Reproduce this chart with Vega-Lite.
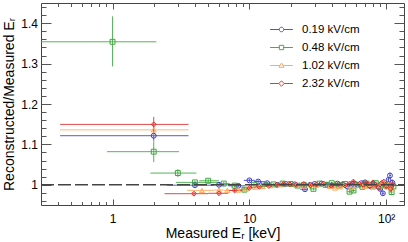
{
"$schema": "https://vega.github.io/schema/vega-lite/v6.json",
"width": 363, "height": 202,
"autosize": {"type": "none"},
"padding": {"left": 41, "top": 3, "right": 4, "bottom": 37},
"background": "white",
"config": {
  "view": {"stroke": "#444", "strokeWidth": 1},
  "axis": {"labelFont": "Liberation Sans", "titleFont": "Liberation Sans", "labelColor": "#000", "titleColor": "#000", "tickColor": "#555", "tickWidth": 1, "grid": false, "domain": false, "titleFontWeight": "normal", "labelFontSize": 12, "titleFontSize": 14},
  "legend": {"labelFont": "Liberation Sans", "labelFontSize": 11.5, "labelColor": "#000", "symbolSize": 144, "symbolStrokeWidth": 1, "rowPadding": 6, "labelOffset": 14, "padding": 0}
},
"datasets": {
"d": [
{"s":"0.19 kV/cm","E":2,"lo":0.414,"hi":3.59,"r":1.1215,"rl":1.109,"rh":1.134},
{"s":"0.19 kV/cm","E":4,"lo":2.5,"hi":5.5,"r":0.999,"rl":0.995,"rh":1.003},
{"s":"0.19 kV/cm","E":6,"lo":5.2,"hi":7.0,"r":1.0,"rl":0.996,"rh":1.004},
{"s":"0.19 kV/cm","E":8.3,"lo":7.0,"hi":9.3,"r":0.9975,"rl":0.994,"rh":1.001},
{"s":"0.19 kV/cm","E":10,"lo":9.1,"hi":11,"r":1.011,"rl":1.007,"rh":1.015},
{"s":"0.19 kV/cm","E":11.6,"lo":10.8,"hi":12.5,"r":1.008,"rl":1.004,"rh":1.012},
{"s":"0.19 kV/cm","E":13.5,"lo":12.5,"hi":14.7,"r":1.004,"rl":1.001,"rh":1.007},
{"s":"0.19 kV/cm","E":16,"lo":14.7,"hi":17.2,"r":1.0,"rl":0.997,"rh":1.003},
{"s":"0.19 kV/cm","E":18.5,"lo":17.2,"hi":20,"r":1.002,"rl":0.999,"rh":1.005},
{"s":"0.19 kV/cm","E":21.5,"lo":20,"hi":23.5,"r":1.001,"rl":0.998,"rh":1.004},
{"s":"0.19 kV/cm","E":25.5,"lo":23.5,"hi":26.7,"r":0.989,"rl":0.985,"rh":0.993},
{"s":"0.19 kV/cm","E":27.8,"lo":26.7,"hi":29,"r":1.0,"rl":0.997,"rh":1.003},
{"s":"0.19 kV/cm","E":30,"lo":29,"hi":32,"r":1.002,"rl":0.999,"rh":1.005},
{"s":"0.19 kV/cm","E":33.8,"lo":32,"hi":35.5,"r":1.003,"rl":1.0,"rh":1.006},
{"s":"0.19 kV/cm","E":37,"lo":35.5,"hi":38.5,"r":1.0,"rl":0.997,"rh":1.003},
{"s":"0.19 kV/cm","E":40,"lo":38.5,"hi":42,"r":0.998,"rl":0.995,"rh":1.001},
{"s":"0.19 kV/cm","E":44,"lo":42,"hi":46,"r":1.003,"rl":1.0,"rh":1.006},
{"s":"0.19 kV/cm","E":48,"lo":46,"hi":50,"r":1.001,"rl":0.998,"rh":1.004},
{"s":"0.19 kV/cm","E":52,"lo":50,"hi":54.5,"r":0.996,"rl":0.993,"rh":0.999},
{"s":"0.19 kV/cm","E":57,"lo":54.5,"hi":59.5,"r":1.002,"rl":0.999,"rh":1.005},
{"s":"0.19 kV/cm","E":62,"lo":59.5,"hi":64,"r":1.0,"rl":0.997,"rh":1.003},
{"s":"0.19 kV/cm","E":66,"lo":64,"hi":68,"r":1.004,"rl":1.0,"rh":1.008},
{"s":"0.19 kV/cm","E":70,"lo":68,"hi":72.5,"r":1.006,"rl":1.002,"rh":1.01},
{"s":"0.19 kV/cm","E":75,"lo":72.5,"hi":77.5,"r":0.998,"rl":0.994,"rh":1.002},
{"s":"0.19 kV/cm","E":80,"lo":77.5,"hi":82.5,"r":1.002,"rl":0.998,"rh":1.006},
{"s":"0.19 kV/cm","E":85,"lo":82.5,"hi":87.5,"r":0.997,"rl":0.993,"rh":1.001},
{"s":"0.19 kV/cm","E":90.4,"lo":88,"hi":92.5,"r":0.99,"rl":0.985,"rh":0.995},
{"s":"0.19 kV/cm","E":94.6,"lo":92.5,"hi":97.3,"r":0.979,"rl":0.973,"rh":0.985},
{"s":"0.19 kV/cm","E":100,"lo":97.3,"hi":102,"r":0.996,"rl":0.99,"rh":1.002},
{"s":"0.19 kV/cm","E":104,"lo":102,"hi":105.3,"r":1.012,"rl":1.005,"rh":1.019},
{"s":"0.19 kV/cm","E":106.6,"lo":105.3,"hi":108.8,"r":1.023,"rl":1.016,"rh":1.03},
{"s":"0.19 kV/cm","E":111,"lo":108.8,"hi":113,"r":1.005,"rl":0.997,"rh":1.013},
{"s":"0.48 kV/cm","E":1,"lo":0.3,"hi":2.09,"r":1.354,"rl":1.293,"rh":1.417},
{"s":"0.48 kV/cm","E":2,"lo":0.91,"hi":3.06,"r":1.082,"rl":1.056,"rh":1.108},
{"s":"0.48 kV/cm","E":3,"lo":1.89,"hi":4.1,"r":1.029,"rl":1.019,"rh":1.039},
{"s":"0.48 kV/cm","E":4,"lo":2.9,"hi":5.9,"r":1.006,"rl":1.002,"rh":1.01},
{"s":"0.48 kV/cm","E":5,"lo":4.3,"hi":6.0,"r":1.01,"rl":1.006,"rh":1.014},
{"s":"0.48 kV/cm","E":6.5,"lo":6.0,"hi":7.2,"r":1.003,"rl":0.999,"rh":1.007},
{"s":"0.48 kV/cm","E":7.8,"lo":7.2,"hi":8.5,"r":0.998,"rl":0.994,"rh":1.002},
{"s":"0.48 kV/cm","E":9.2,"lo":8.5,"hi":10,"r":0.988,"rl":0.984,"rh":0.992},
{"s":"0.48 kV/cm","E":10.8,"lo":10,"hi":11.8,"r":1.0,"rl":0.996,"rh":1.004},
{"s":"0.48 kV/cm","E":12.8,"lo":11.8,"hi":14,"r":1.002,"rl":0.999,"rh":1.005},
{"s":"0.48 kV/cm","E":15,"lo":14,"hi":16.2,"r":1.001,"rl":0.998,"rh":1.004},
{"s":"0.48 kV/cm","E":17.5,"lo":16.2,"hi":18.8,"r":1.003,"rl":1.0,"rh":1.006},
{"s":"0.48 kV/cm","E":20,"lo":18.8,"hi":21.2,"r":1.002,"rl":0.999,"rh":1.005},
{"s":"0.48 kV/cm","E":22.5,"lo":21.2,"hi":23.8,"r":0.998,"rl":0.995,"rh":1.001},
{"s":"0.48 kV/cm","E":25,"lo":23.8,"hi":27,"r":1.0,"rl":0.997,"rh":1.003},
{"s":"0.48 kV/cm","E":29.4,"lo":27.5,"hi":31,"r":0.99,"rl":0.986,"rh":0.994},
{"s":"0.48 kV/cm","E":32.5,"lo":31,"hi":34.3,"r":1.003,"rl":1.0,"rh":1.006},
{"s":"0.48 kV/cm","E":36,"lo":34.3,"hi":38,"r":1.0,"rl":0.997,"rh":1.003},
{"s":"0.48 kV/cm","E":40,"lo":38,"hi":42.5,"r":1.004,"rl":1.001,"rh":1.007},
{"s":"0.48 kV/cm","E":45,"lo":42.5,"hi":47.5,"r":0.998,"rl":0.995,"rh":1.001},
{"s":"0.48 kV/cm","E":50,"lo":47.5,"hi":52,"r":1.002,"rl":0.999,"rh":1.005},
{"s":"0.48 kV/cm","E":54,"lo":52,"hi":55.8,"r":0.983,"rl":0.979,"rh":0.987},
{"s":"0.48 kV/cm","E":57.7,"lo":55.8,"hi":59.8,"r":0.986,"rl":0.982,"rh":0.99},
{"s":"0.48 kV/cm","E":62,"lo":59.8,"hi":64.5,"r":1.0,"rl":0.996,"rh":1.004},
{"s":"0.48 kV/cm","E":67,"lo":64.5,"hi":69.5,"r":0.995,"rl":0.991,"rh":0.999},
{"s":"0.48 kV/cm","E":72,"lo":69.5,"hi":75,"r":1.003,"rl":0.999,"rh":1.007},
{"s":"0.48 kV/cm","E":78,"lo":75,"hi":81,"r":0.998,"rl":0.994,"rh":1.002},
{"s":"0.48 kV/cm","E":84,"lo":81,"hi":87,"r":1.004,"rl":1.0,"rh":1.008},
{"s":"0.48 kV/cm","E":90,"lo":87,"hi":93,"r":0.996,"rl":0.991,"rh":1.001},
{"s":"0.48 kV/cm","E":96,"lo":93,"hi":99,"r":1.0,"rl":0.995,"rh":1.005},
{"s":"0.48 kV/cm","E":102,"lo":99,"hi":105.8,"r":0.998,"rl":0.992,"rh":1.004},
{"s":"0.48 kV/cm","E":109.6,"lo":105.8,"hi":111.5,"r":0.982,"rl":0.974,"rh":0.99},
{"s":"0.48 kV/cm","E":113,"lo":111.5,"hi":114.5,"r":0.996,"rl":0.988,"rh":1.004},
{"s":"1.02 kV/cm","E":2,"lo":0.414,"hi":3.59,"r":1.136,"rl":1.122,"rh":1.15},
{"s":"1.02 kV/cm","E":4.5,"lo":3.5,"hi":5.5,"r":0.986,"rl":0.982,"rh":0.99},
{"s":"1.02 kV/cm","E":6,"lo":5.5,"hi":6.5,"r":0.987,"rl":0.983,"rh":0.991},
{"s":"1.02 kV/cm","E":6.9,"lo":6.5,"hi":7.6,"r":0.986,"rl":0.982,"rh":0.99},
{"s":"1.02 kV/cm","E":8.3,"lo":7.6,"hi":8.9,"r":0.987,"rl":0.983,"rh":0.991},
{"s":"1.02 kV/cm","E":9.5,"lo":8.9,"hi":10.2,"r":0.99,"rl":0.986,"rh":0.994},
{"s":"1.02 kV/cm","E":11,"lo":10.2,"hi":11.8,"r":0.994,"rl":0.99,"rh":0.998},
{"s":"1.02 kV/cm","E":12.5,"lo":11.8,"hi":13.5,"r":0.996,"rl":0.993,"rh":0.999},
{"s":"1.02 kV/cm","E":14.5,"lo":13.5,"hi":15.7,"r":0.998,"rl":0.995,"rh":1.001},
{"s":"1.02 kV/cm","E":17,"lo":15.7,"hi":18.2,"r":1.0,"rl":0.997,"rh":1.003},
{"s":"1.02 kV/cm","E":19.5,"lo":18.2,"hi":20.7,"r":1.002,"rl":0.999,"rh":1.005},
{"s":"1.02 kV/cm","E":22,"lo":20.7,"hi":23.5,"r":1.0,"rl":0.997,"rh":1.003},
{"s":"1.02 kV/cm","E":25,"lo":23.5,"hi":26.5,"r":0.997,"rl":0.994,"rh":1.0},
{"s":"1.02 kV/cm","E":28,"lo":26.5,"hi":29.5,"r":1.001,"rl":0.998,"rh":1.004},
{"s":"1.02 kV/cm","E":31,"lo":29.5,"hi":33,"r":0.999,"rl":0.996,"rh":1.002},
{"s":"1.02 kV/cm","E":35,"lo":33,"hi":37,"r":1.003,"rl":1.0,"rh":1.006},
{"s":"1.02 kV/cm","E":38.8,"lo":37,"hi":40.5,"r":0.996,"rl":0.993,"rh":0.999},
{"s":"1.02 kV/cm","E":42.3,"lo":40.5,"hi":44,"r":0.992,"rl":0.989,"rh":0.995},
{"s":"1.02 kV/cm","E":46,"lo":44,"hi":48,"r":0.995,"rl":0.992,"rh":0.998},
{"s":"1.02 kV/cm","E":50,"lo":48,"hi":52.5,"r":1.0,"rl":0.997,"rh":1.003},
{"s":"1.02 kV/cm","E":55,"lo":52.5,"hi":57.5,"r":0.993,"rl":0.99,"rh":0.996},
{"s":"1.02 kV/cm","E":60,"lo":57.5,"hi":62.5,"r":0.998,"rl":0.995,"rh":1.001},
{"s":"1.02 kV/cm","E":65,"lo":62.5,"hi":67.5,"r":1.004,"rl":1.0,"rh":1.008},
{"s":"1.02 kV/cm","E":70,"lo":67.5,"hi":72.5,"r":0.996,"rl":0.992,"rh":1.0},
{"s":"1.02 kV/cm","E":75,"lo":72.5,"hi":77.5,"r":1.001,"rl":0.997,"rh":1.005},
{"s":"1.02 kV/cm","E":80,"lo":77.5,"hi":82.5,"r":0.994,"rl":0.99,"rh":0.998},
{"s":"1.02 kV/cm","E":85,"lo":82.5,"hi":87.5,"r":1.002,"rl":0.998,"rh":1.006},
{"s":"1.02 kV/cm","E":90,"lo":87.5,"hi":92.5,"r":0.998,"rl":0.993,"rh":1.003},
{"s":"1.02 kV/cm","E":95,"lo":92.5,"hi":97.5,"r":1.006,"rl":1.001,"rh":1.011},
{"s":"1.02 kV/cm","E":100,"lo":97.5,"hi":102.5,"r":0.995,"rl":0.99,"rh":1.0},
{"s":"1.02 kV/cm","E":105,"lo":102.5,"hi":107.5,"r":1.003,"rl":0.997,"rh":1.009},
{"s":"1.02 kV/cm","E":110,"lo":107.5,"hi":112.5,"r":0.992,"rl":0.985,"rh":0.999},
{"s":"2.32 kV/cm","E":2,"lo":0.414,"hi":3.59,"r":1.1495,"rl":1.131,"rh":1.168},
{"s":"2.32 kV/cm","E":3.94,"lo":2.4,"hi":5.0,"r":0.978,"rl":0.974,"rh":0.982},
{"s":"2.32 kV/cm","E":6.0,"lo":5.0,"hi":7.0,"r":0.979,"rl":0.975,"rh":0.983},
{"s":"2.32 kV/cm","E":7.8,"lo":7.0,"hi":8.9,"r":0.986,"rl":0.982,"rh":0.99},
{"s":"2.32 kV/cm","E":10,"lo":8.9,"hi":10.9,"r":0.9925,"rl":0.989,"rh":0.996},
{"s":"2.32 kV/cm","E":11.8,"lo":10.9,"hi":12.8,"r":0.995,"rl":0.992,"rh":0.998},
{"s":"2.32 kV/cm","E":13.9,"lo":12.8,"hi":14.8,"r":0.997,"rl":0.994,"rh":1.0},
{"s":"2.32 kV/cm","E":15.8,"lo":14.8,"hi":16.7,"r":1.0,"rl":0.997,"rh":1.003},
{"s":"2.32 kV/cm","E":17.7,"lo":16.7,"hi":18.7,"r":1.002,"rl":0.999,"rh":1.005},
{"s":"2.32 kV/cm","E":19.8,"lo":18.7,"hi":20.9,"r":1.001,"rl":0.998,"rh":1.004},
{"s":"2.32 kV/cm","E":22,"lo":20.9,"hi":23.5,"r":1.0,"rl":0.997,"rh":1.003},
{"s":"2.32 kV/cm","E":25,"lo":23.5,"hi":26.5,"r":1.002,"rl":0.999,"rh":1.005},
{"s":"2.32 kV/cm","E":28,"lo":26.5,"hi":29.5,"r":0.999,"rl":0.996,"rh":1.002},
{"s":"2.32 kV/cm","E":31,"lo":29.5,"hi":33,"r":1.001,"rl":0.998,"rh":1.004},
{"s":"2.32 kV/cm","E":35,"lo":33,"hi":37.5,"r":1.003,"rl":1.0,"rh":1.006},
{"s":"2.32 kV/cm","E":40,"lo":37.5,"hi":42.5,"r":1.0,"rl":0.997,"rh":1.003},
{"s":"2.32 kV/cm","E":45,"lo":42.5,"hi":47.5,"r":1.002,"rl":0.999,"rh":1.005},
{"s":"2.32 kV/cm","E":50,"lo":47.5,"hi":52,"r":0.998,"rl":0.995,"rh":1.001},
{"s":"2.32 kV/cm","E":54,"lo":52,"hi":55.8,"r":1.003,"rl":1.0,"rh":1.006},
{"s":"2.32 kV/cm","E":57.6,"lo":55.8,"hi":60.7,"r":1.008,"rl":1.004,"rh":1.012},
{"s":"2.32 kV/cm","E":63.8,"lo":60.7,"hi":66,"r":1.0025,"rl":0.999,"rh":1.006},
{"s":"2.32 kV/cm","E":68,"lo":66,"hi":70,"r":1.0,"rl":0.996,"rh":1.004},
{"s":"2.32 kV/cm","E":72,"lo":70,"hi":74,"r":1.004,"rl":1.0,"rh":1.008},
{"s":"2.32 kV/cm","E":76,"lo":74,"hi":78,"r":0.996,"rl":0.992,"rh":1.0},
{"s":"2.32 kV/cm","E":80,"lo":78,"hi":82,"r":1.006,"rl":1.002,"rh":1.01},
{"s":"2.32 kV/cm","E":84,"lo":82,"hi":86,"r":1.0,"rl":0.996,"rh":1.004},
{"s":"2.32 kV/cm","E":88,"lo":86,"hi":90,"r":0.993,"rl":0.988,"rh":0.998},
{"s":"2.32 kV/cm","E":92,"lo":90,"hi":94,"r":1.004,"rl":0.999,"rh":1.009},
{"s":"2.32 kV/cm","E":96,"lo":94,"hi":98,"r":1.008,"rl":1.003,"rh":1.013},
{"s":"2.32 kV/cm","E":100,"lo":98,"hi":102,"r":0.997,"rl":0.991,"rh":1.003},
{"s":"2.32 kV/cm","E":104,"lo":102,"hi":106,"r":1.003,"rl":0.997,"rh":1.009},
{"s":"2.32 kV/cm","E":108,"lo":106,"hi":110,"r":0.99,"rl":0.983,"rh":0.997},
{"s":"2.32 kV/cm","E":112,"lo":110,"hi":114,"r":1.0,"rl":0.992,"rh":1.008}
],
"ref": [{"x0": 0.3, "x1": 135, "y": 1}]
},
"data": {"name": "d"},
"resolve": {"axis": {"x": "independent", "y": "independent"}, "scale": {"shape": "independent", "color": "independent"}},
"layer": [
{
  "mark": {"type": "rule", "strokeWidth": 1, "opacity": 0.85, "clip": true},
  "encoding": {
    "x": {"field": "lo", "type": "quantitative", "scale": {"type": "log", "domain": [0.3, 135], "nice": false},
      "axis": {"orient": "bottom", "values": [1, 10, 100], "labelExpr": "datum.value == 100 ? '10²' : datum.value == 10 ? '10' : '1'", "tickSize": -6, "labelPadding": 14, "title": "Measured Eᵣ [keV]", "titlePadding": 2}},
    "x2": {"field": "hi"},
    "y": {"field": "r", "type": "quantitative", "scale": {"domain": [0.95, 1.45], "nice": false, "zero": false},
      "axis": {"orient": "left", "values": [1, 1.1, 1.2, 1.3, 1.4], "labelExpr": "datum.value == 1 ? '1' : format(datum.value, '.1f')", "tickSize": -10, "labelPadding": 13.5, "title": "Reconstructed/Measured Eᵣ", "titlePadding": 4}},
    "color": {"field": "s", "type": "nominal", "scale": {"domain": ["0.19 kV/cm", "0.48 kV/cm", "1.02 kV/cm", "2.32 kV/cm"], "range": ["#3c3cc8", "#3aa83a", "#ffaa60", "#e02828"]}, "legend": null}
  }
},
{
  "mark": {"type": "rule", "strokeWidth": 1, "opacity": 0.85, "clip": true},
  "encoding": {
    "x": {"field": "E", "type": "quantitative", "scale": {"type": "log", "domain": [0.3, 135], "nice": false},
      "axis": {"orient": "bottom", "values": [0.4, 0.5, 0.6, 0.7, 0.8, 0.9, 2, 3, 4, 5, 6, 7, 8, 9, 20, 30, 40, 50, 60, 70, 80, 90], "tickSize": -3.5, "labels": false, "title": null}},
    "y": {"field": "rl", "type": "quantitative", "scale": {"domain": [0.95, 1.45], "nice": false, "zero": false},
      "axis": {"orient": "left", "values": [0.96, 0.98, 1.02, 1.04, 1.06, 1.08, 1.12, 1.14, 1.16, 1.18, 1.22, 1.24, 1.26, 1.28, 1.32, 1.34, 1.36, 1.38, 1.42, 1.44], "tickSize": -5, "labels": false, "title": null}},
    "y2": {"field": "rh"},
    "color": {"field": "s", "type": "nominal", "scale": {"domain": ["0.19 kV/cm", "0.48 kV/cm", "1.02 kV/cm", "2.32 kV/cm"], "range": ["#3c3cc8", "#3aa83a", "#ffaa60", "#e02828"]}, "legend": null}
  }
},
{
  "mark": {"type": "point", "filled": false, "size": 24, "strokeWidth": 1, "opacity": 1, "clip": true},
  "encoding": {
    "x": {"field": "E", "type": "quantitative", "scale": {"type": "log", "domain": [0.3, 135], "nice": false},
      "axis": {"orient": "top", "values": [1, 10, 100], "tickSize": -6, "labels": false, "title": null}},
    "y": {"field": "r", "type": "quantitative", "scale": {"domain": [0.95, 1.45], "nice": false, "zero": false},
      "axis": {"orient": "right", "values": [1, 1.1, 1.2, 1.3, 1.4], "tickSize": -10, "labels": false, "title": null}},
    "shape": {"field": "s", "type": "nominal", "scale": {"domain": ["0.19 kV/cm", "0.48 kV/cm", "1.02 kV/cm", "2.32 kV/cm"], "range": ["circle", "square", "triangle-up", "diamond"]}, "legend": null},
    "color": {"field": "s", "type": "nominal", "scale": {"domain": ["0.19 kV/cm", "0.48 kV/cm", "1.02 kV/cm", "2.32 kV/cm"], "range": ["#3c3cc8", "#3aa83a", "#ffaa60", "#e02828"]}, "legend": null}
  }
},
{
  "data": {"name": "ref"},
  "mark": {"type": "rule", "strokeDash": [13, 4], "color": "#444", "strokeWidth": 1.5},
  "encoding": {
    "x": {"field": "x0", "type": "quantitative", "scale": {"type": "log", "domain": [0.3, 135], "nice": false},
      "axis": {"orient": "top", "values": [0.4, 0.5, 0.6, 0.7, 0.8, 0.9, 2, 3, 4, 5, 6, 7, 8, 9, 20, 30, 40, 50, 60, 70, 80, 90], "tickSize": -3.5, "labels": false, "title": null}},
    "x2": {"field": "x1"},
    "y": {"field": "y", "type": "quantitative", "scale": {"domain": [0.95, 1.45], "nice": false, "zero": false},
      "axis": {"orient": "right", "values": [0.96, 0.98, 1.02, 1.04, 1.06, 1.08, 1.12, 1.14, 1.16, 1.18, 1.22, 1.24, 1.26, 1.28, 1.32, 1.34, 1.36, 1.38, 1.42, 1.44], "tickSize": -5, "labels": false, "title": null}}
  }
},
{
  "transform": [{"filter": "datum.E < 0"}],
  "mark": {"type": "point", "filled": false, "strokeWidth": 1, "opacity": 1},
  "encoding": {
    "x": {"field": "E", "type": "quantitative", "scale": {"type": "log", "domain": [0.3, 135], "nice": false}, "axis": null},
    "y": {"field": "r", "type": "quantitative", "scale": {"domain": [0.95, 1.45], "nice": false, "zero": false}, "axis": null},
    "shape": {"field": "s", "type": "nominal", "scale": {"domain": ["0.19 kV/cm", "0.48 kV/cm", "1.02 kV/cm", "2.32 kV/cm"], "range": [
      "M-1.9,0H-0.38M0.38,0H1.9M0.38,0A0.38,0.38,0,1,1,-0.38,0A0.38,0.38,0,1,1,0.38,0",
      "M-1.9,0H-0.36M0.36,0H1.9M-0.36,-0.36H0.36V0.36H-0.36Z",
      "M-1.9,0H-0.25M0.25,0H1.9M0,-0.42L0.42,0.3H-0.42Z",
      "M-1.9,0H-0.45M0.45,0H1.9M0,-0.45L0.45,0L0,0.45L-0.45,0Z"]},
      "legend": {"title": null, "orient": "none", "legendX": 234, "legendY": 20}},
    "color": {"field": "s", "type": "nominal", "scale": {"domain": ["0.19 kV/cm", "0.48 kV/cm", "1.02 kV/cm", "2.32 kV/cm"], "range": ["#5050d8", "#44b044", "#ffaa60", "#e83434"]},
      "legend": {"title": null, "orient": "none", "legendX": 234, "legendY": 20}}
  }
}
]
}
